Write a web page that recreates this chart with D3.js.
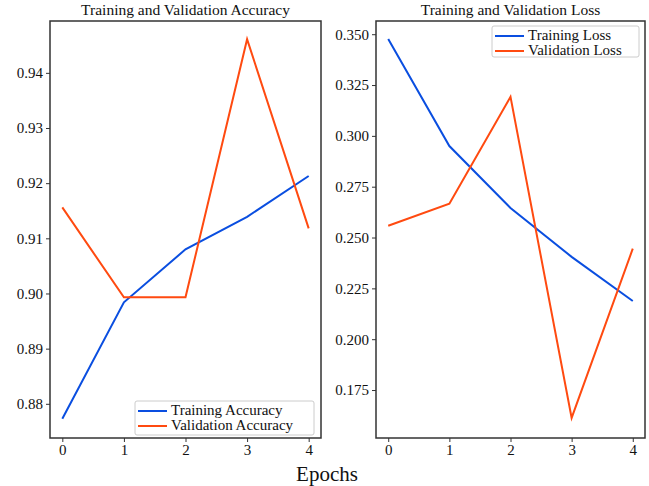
<!DOCTYPE html>
<html>
<head>
<meta charset="utf-8">
<script src="https://cdn.jsdelivr.net/npm/d3@7"></script>
<style>
  body { margin: 0; background: #fff; }
  svg text { font-family: "Liberation Serif", "DejaVu Serif", serif; fill: #111; }
</style>
</head>
<body>
<div id="chart"></div>
<script>
const epochs = [0, 1, 2, 3, 4];
const trainAcc = [0.8773, 0.8984, 0.9080, 0.9139, 0.9213];
const valAcc = [0.9156, 0.8993, 0.8993, 0.9461, 0.9118];
const trainLoss = [0.3477, 0.2950, 0.2645, 0.2405, 0.2188];
const valLoss = [0.2558, 0.2666, 0.3192, 0.1613, 0.2445];
const accTicks = [0.88, 0.89, 0.90, 0.91, 0.92, 0.93, 0.94];
const lossTicks = [0.175, 0.200, 0.225, 0.250, 0.275, 0.300, 0.325, 0.350];

const blue = '#0a4ee0';
const orange = '#ff4a10';
const serif = '"Liberation Serif", "DejaVu Serif", serif';

const svg = d3.select('#chart').append('svg')
  .attr('width', 649).attr('height', 486);

const drawPanel = (opt) => {
  const x = d3.scaleLinear().domain([-0.2, 4.2]).range([opt.left, opt.right]);
  const y = d3.scaleLinear().domain(opt.yDomain).range([438, 21]);
  const g = svg.append('g');

  g.append('g')
    .attr('transform', 'translate(0,438)')
    .call(d3.axisBottom(x).tickValues(epochs).tickFormat(d3.format('d')).tickSize(4).tickPadding(2))
    .attr('font-family', serif).attr('font-size', 15)
    .call(a => a.select('.domain').remove())
    .call(a => a.selectAll('line').attr('stroke', '#333'));

  g.append('g')
    .attr('transform', `translate(${opt.left},0)`)
    .call(d3.axisLeft(y).tickValues(opt.ticks).tickFormat(d3.format(opt.fmt)).tickSize(4).tickPadding(3))
    .attr('font-family', serif).attr('font-size', 15)
    .call(a => a.select('.domain').remove())
    .call(a => a.selectAll('line').attr('stroke', '#333'));

  g.append('rect')
    .attr('x', opt.left).attr('y', 21)
    .attr('width', opt.right - opt.left).attr('height', 438 - 21)
    .attr('fill', 'none').attr('stroke', '#333').attr('stroke-width', 1.5);

  const line = d3.line().x((d, i) => x(epochs[i])).y(d => y(d));
  g.append('path').datum(opt.train).attr('d', line)
    .attr('fill', 'none').attr('stroke', blue).attr('stroke-width', 2);
  g.append('path').datum(opt.val).attr('d', line)
    .attr('fill', 'none').attr('stroke', orange).attr('stroke-width', 2);

  g.append('text')
    .attr('x', (opt.left + opt.right) / 2).attr('y', 15)
    .attr('text-anchor', 'middle').style('font-size', '15.5px')
    .text(opt.title);

  const lg = opt.legend;
  g.append('rect')
    .attr('x', lg.x).attr('y', lg.y).attr('width', lg.w).attr('height', lg.h)
    .attr('fill', '#fff').attr('stroke', '#ccc').attr('stroke-width', 1).attr('rx', 2);
  [[opt.labels[0], blue], [opt.labels[1], orange]].forEach(([label, c], i) => {
    const yy = lg.y + 10 + i * 15;
    g.append('line')
      .attr('x1', lg.x + 3).attr('x2', lg.x + 32)
      .attr('y1', yy).attr('y2', yy)
      .attr('stroke', c).attr('stroke-width', 2);
    g.append('text')
      .attr('x', lg.x + 36).attr('y', yy + 4)
      .style('font-size', '15px').text(label);
  });
};

drawPanel({
  left: 50, right: 321,
  yDomain: [0.8738, 0.9494],
  ticks: accTicks, fmt: '.2f',
  train: trainAcc, val: valAcc,
  title: 'Training and Validation Accuracy',
  labels: ['Training Accuracy', 'Validation Accuracy'],
  legend: { x: 135, y: 401, w: 179, h: 34 }
});

drawPanel({
  left: 376, right: 645,
  yDomain: [0.1514, 0.3565],
  ticks: lossTicks, fmt: '.3f',
  train: trainLoss, val: valLoss,
  title: 'Training and Validation Loss',
  labels: ['Training Loss', 'Validation Loss'],
  legend: { x: 492, y: 26, w: 147, h: 31 }
});

svg.append('text')
  .attr('x', 327).attr('y', 481)
  .attr('text-anchor', 'middle').style('font-size', '21px')
  .text('Epochs');
</script>
</body>
</html>
